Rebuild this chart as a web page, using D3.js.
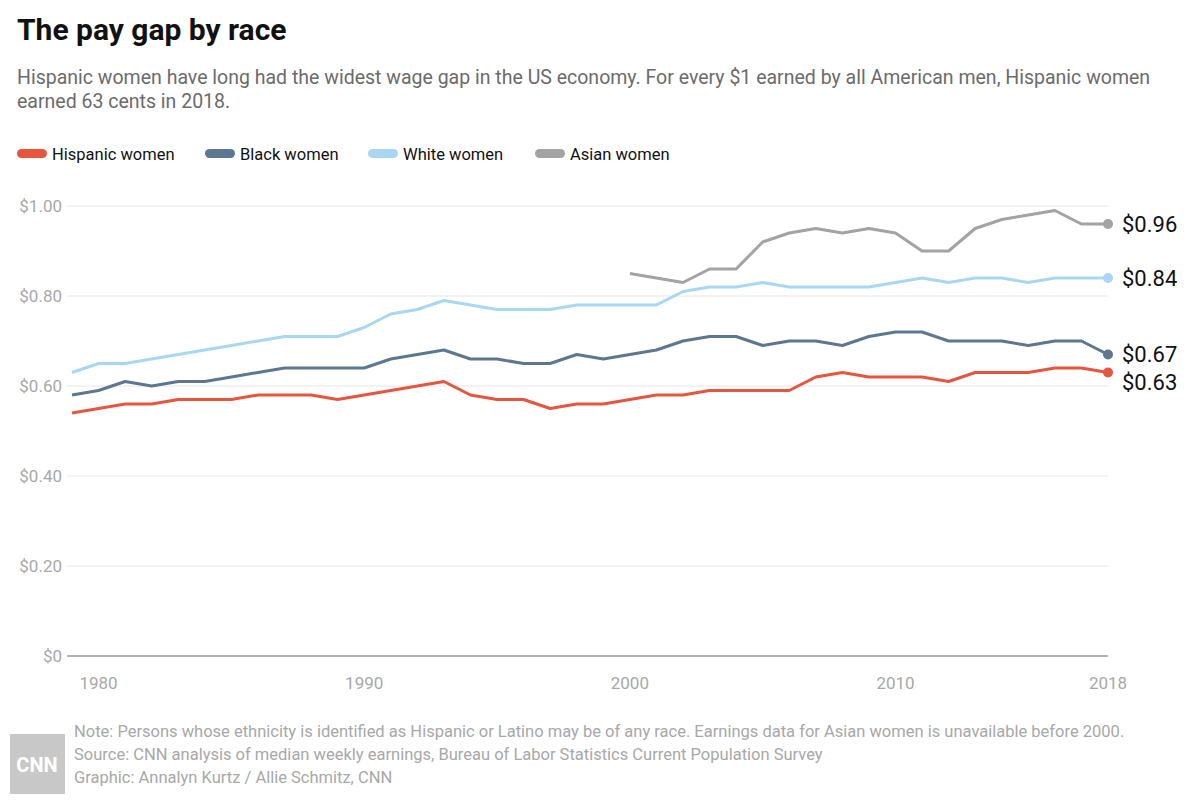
<!DOCTYPE html>
<html>
<head>
<meta charset="utf-8">
<script src="https://cdn.jsdelivr.net/npm/d3@7"></script>
<style>
  body { margin: 0; background: #fff; }
  text { font-family: "Liberation Sans Narrow", "Roboto", sans-serif; }
</style>
</head>
<body>
<script>
const years = d3.range(1979, 2019);
const hispanic = [0.54,0.55,0.56,0.56,0.57,0.57,0.57,0.58,0.58,0.58,0.57,0.58,0.59,0.60,0.61,0.58,0.57,0.57,0.55,0.56,0.56,0.57,0.58,0.58,0.59,0.59,0.59,0.59,0.62,0.63,0.62,0.62,0.62,0.61,0.63,0.63,0.63,0.64,0.64,0.63];
const black = [0.58,0.59,0.61,0.60,0.61,0.61,0.62,0.63,0.64,0.64,0.64,0.64,0.66,0.67,0.68,0.66,0.66,0.65,0.65,0.67,0.66,0.67,0.68,0.70,0.71,0.71,0.69,0.70,0.70,0.69,0.71,0.72,0.72,0.70,0.70,0.70,0.69,0.70,0.70,0.67];
const white = [0.63,0.65,0.65,0.66,0.67,0.68,0.69,0.70,0.71,0.71,0.71,0.73,0.76,0.77,0.79,0.78,0.77,0.77,0.77,0.78,0.78,0.78,0.78,0.81,0.82,0.82,0.83,0.82,0.82,0.82,0.82,0.83,0.84,0.83,0.84,0.84,0.83,0.84,0.84,0.84];
const asianYears = d3.range(2000, 2019);
const asian = [0.85,0.84,0.83,0.86,0.86,0.92,0.94,0.95,0.94,0.95,0.94,0.90,0.90,0.95,0.97,0.98,0.99,0.96,0.96];
const yTicks = [0, 0.2, 0.4, 0.6, 0.8, 1.0];
const xTicks = [1980, 1990, 2000, 2010, 2018];

const series = [
  { name: "Hispanic women", color: "#e8553f", years: years, values: hispanic },
  { name: "Black women", color: "#5d7791", years: years, values: black },
  { name: "White women", color: "#a9d7f3", years: years, values: white },
  { name: "Asian women", color: "#a3a3a3", years: asianYears, values: asian }
];

const width = 1200, height = 805;
const svg = d3.select("body").append("svg").attr("width", width).attr("height", height);

const x = d3.scaleLinear().domain([1979, 2018]).range([72, 1108]);
const y = d3.scaleLinear().domain([0, 1]).range([656, 206]);

// Title and subtitle
svg.append("text").attr("x", 17).attr("y", 40).attr("font-size", 30).attr("font-weight", "bold")
  .attr("fill", "#111").text("The pay gap by race");
const sub = ["Hispanic women have long had the widest wage gap in the US economy. For every $1 earned by all American men, Hispanic women",
  "earned 63 cents in 2018."];
sub.forEach((s, i) => svg.append("text").attr("x", 17).attr("y", 84 + i * 24)
  .attr("font-size", 19.5).attr("fill", "#6b6b6b").text(s));

// Legend
const legX = [17, 205, 368, 535];
series.forEach((s, i) => {
  svg.append("rect").attr("x", legX[i]).attr("y", 149).attr("width", 30).attr("height", 9)
    .attr("rx", 4.5).attr("fill", s.color);
  svg.append("text").attr("x", legX[i] + 35).attr("y", 160).attr("font-size", 16.5)
    .attr("fill", "#111").text(s.name);
});

// Gridlines
svg.append("g").selectAll("line").data(yTicks).join("line")
  .attr("x1", 67).attr("x2", 1108)
  .attr("y1", d => y(d)).attr("y2", d => y(d))
  .attr("stroke", d => d === 0 ? "#9a9a9a" : "#e6e6e6")
  .attr("stroke-width", d => d === 0 ? 1.3 : 1);
svg.append("g").selectAll("text").data(yTicks).join("text")
  .attr("x", 62).attr("y", d => y(d) + 6).attr("text-anchor", "end")
  .attr("font-size", 17).attr("fill", "#a8a8a8")
  .text(d => d === 0 ? "$0" : "$" + d.toFixed(2));
svg.append("g").selectAll("text").data(xTicks).join("text")
  .attr("x", d => x(d)).attr("y", 689).attr("text-anchor", "middle")
  .attr("font-size", 17).attr("fill", "#a8a8a8").text(d => d);

// Lines
const line = d3.line().x(d => x(d[0])).y(d => y(d[1]));
series.slice().reverse().forEach(s => {
  const pts = s.years.map((yr, i) => [yr, s.values[i]]);
  svg.append("path").datum(pts).attr("d", line).attr("fill", "none")
    .attr("stroke", s.color).attr("stroke-width", 3).attr("stroke-linejoin", "round");
  const last = pts[pts.length - 1];
  svg.append("circle").attr("cx", x(last[0])).attr("cy", y(last[1])).attr("r", 5).attr("fill", s.color);
  const lyOff = s.name === "Hispanic women" ? 9 : (s.name === "Black women" ? -1 : 0);
  svg.append("text").attr("x", x(last[0]) + 14).attr("y", y(last[1]) + 8 + lyOff)
    .attr("font-size", 22).attr("fill", "#111").text("$" + last[1].toFixed(2));
});

// Footer
const notes = ["Note: Persons whose ethnicity is identified as Hispanic or Latino may be of any race. Earnings data for Asian women is unavailable before 2000.",
  "Source: CNN analysis of median weekly earnings, Bureau of Labor Statistics Current Population Survey",
  "Graphic: Annalyn Kurtz / Allie Schmitz, CNN"];
notes.forEach((n, i) => svg.append("text").attr("x", 74).attr("y", 737 + i * 23)
  .attr("font-size", 16.5).attr("fill", "#a8a8a8").text(n));
svg.append("rect").attr("x", 10).attr("y", 734).attr("width", 55).attr("height", 60).attr("fill", "#c8c8c8");
svg.append("text").attr("x", 37).attr("y", 772).attr("text-anchor", "middle").attr("font-size", 20)
  .attr("font-weight", "bold").attr("fill", "#fff").text("CNN");
</script>
</body>
</html>
